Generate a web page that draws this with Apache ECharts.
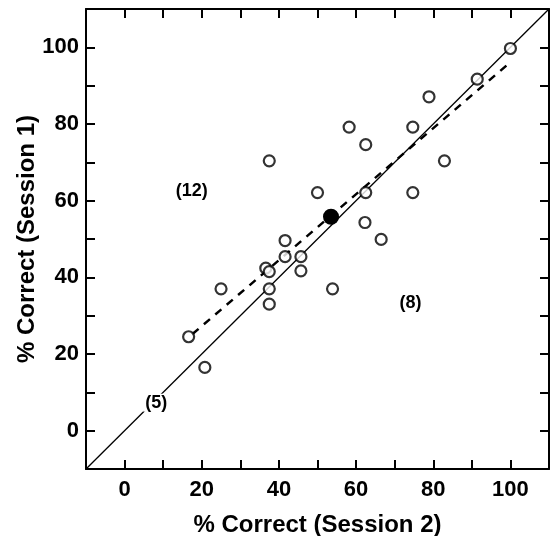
<!DOCTYPE html>
<html>
<head>
<meta charset="utf-8">
<script src="https://cdn.jsdelivr.net/npm/echarts@6/dist/echarts.min.js"></script>
<style>
  html, body { margin: 0; padding: 0; background: #fff; }
  #chart { width: 550px; height: 536px; }
</style>
</head>
<body>
<div id="chart"></div>
<script>
// % correct, session 2 (x) and session 1 (y), one entry per subject
const session2 = [100, 91.4, 78.9, 58.2, 74.7, 62.5, 37.5, 82.9, 50.0, 62.5, 74.7, 62.3, 66.5,
  41.6, 36.6, 37.5, 41.6, 45.7, 45.7, 37.5, 25.0, 53.9, 37.5, 16.6, 20.8];
const session1 = [99.7, 91.7, 87.1, 79.2, 79.2, 74.6, 70.4, 70.4, 62.1, 62.1, 62.1, 54.3, 49.9,
  49.6, 42.4, 41.5, 45.4, 45.4, 41.7, 37.0, 37.0, 37.0, 33.0, 24.5, 16.5];
// group mean
const meanX = [53.5];
const meanY = [55.8];
// regression (dashed) and identity (solid) lines
const fitX = [17.6, 99.4];
const fitY = [25.2, 95.6];
const idX = [-10, 110];
const idY = [-10, 110];
// counts of subjects per region
const regionLabels = ['(12)', '(8)', '(5)'];
const regionX = [17.4, 74.1, 8.2];
const regionY = [62.4, 33.4, 7.3];

const ticks = [0, 20, 40, 60, 80, 100];
const FONT = '"Liberation Sans", Arial, Helvetica, sans-serif';

const zip = (a, b) => a.map((v, i) => [v, b[i]]);

const chart = echarts.init(document.getElementById('chart'));

const tickFmt = v => (ticks.indexOf(v) >= 0 ? String(v) : '');

const baseAxis = {
  type: 'value',
  min: -10,
  max: 110,
  interval: 10,
  splitLine: { show: false },
  axisLine: { show: true, onZero: false, lineStyle: { color: '#000', width: 2 } },
  axisTick: { show: true, inside: true, length: 9, lineStyle: { color: '#000', width: 2 } },
};

const option = {
  animation: false,
  backgroundColor: '#fff',
  grid: { left: 86, right: 1, top: 9, bottom: 67, containLabel: false, outerBoundsMode: 'none' },
  xAxis: [
    Object.assign({}, baseAxis, {
      position: 'bottom',
      name: '% Correct (Session 2)',
      nameLocation: 'middle',
      nameGap: 44,
      nameMoveOverlap: false,
      nameTextStyle: { color: '#000', fontSize: 24, fontWeight: 'bold', fontFamily: FONT },
      axisLabel: { formatter: tickFmt, color: '#000', fontSize: 22, fontWeight: 'bold', fontFamily: FONT, margin: 10 },
    }),
    Object.assign({}, baseAxis, { position: 'top', axisLabel: { show: false } }),
  ],
  yAxis: [
    Object.assign({}, baseAxis, {
      position: 'left',
      name: '% Correct (Session 1)',
      nameLocation: 'middle',
      nameGap: 47,
      nameMoveOverlap: false,
      nameTextStyle: { color: '#000', fontSize: 24, fontWeight: 'bold', fontFamily: FONT },
      axisLabel: { formatter: tickFmt, color: '#000', fontSize: 22, fontWeight: 'bold', fontFamily: FONT, margin: 7 },
    }),
    Object.assign({}, baseAxis, { position: 'right', axisLabel: { show: false } }),
  ],
  series: [
    {
      type: 'line',
      data: zip(idX, idY),
      symbol: 'none',
      lineStyle: { color: '#000', width: 1.3 },
      silent: true,
      z: 1,
    },
    {
      type: 'line',
      data: zip(fitX, fitY),
      symbol: 'none',
      lineStyle: { color: '#000', width: 2.5, type: [8, 7] },
      silent: true,
      z: 1,
    },
    {
      type: 'scatter',
      data: zip(session2, session1),
      symbol: 'circle',
      symbolSize: 11,
      itemStyle: { color: '#fff', borderColor: '#000', borderWidth: 2.2 },
      z: 3,
    },
    {
      type: 'scatter',
      data: zip(meanX, meanY),
      symbol: 'circle',
      symbolSize: 16,
      itemStyle: { color: '#000', opacity: 1 },
      z: 4,
    },
    {
      type: 'scatter',
      data: regionX.map((x, i) => ({ value: [x, regionY[i]], name: regionLabels[i] })),
      symbolSize: 0,
      itemStyle: { color: '#000', opacity: 1 },
      label: {
        show: true,
        position: 'inside',
        formatter: p => p.name,
        color: '#000',
        opacity: 1,
        textBorderWidth: 0,
        fontSize: 18,
        fontWeight: 'bold',
        fontFamily: FONT,
        backgroundColor: '#fff',
        padding: [0, 2],
      },
      z: 5,
    },
  ],
};

chart.setOption(option);
</script>
</body>
</html>
